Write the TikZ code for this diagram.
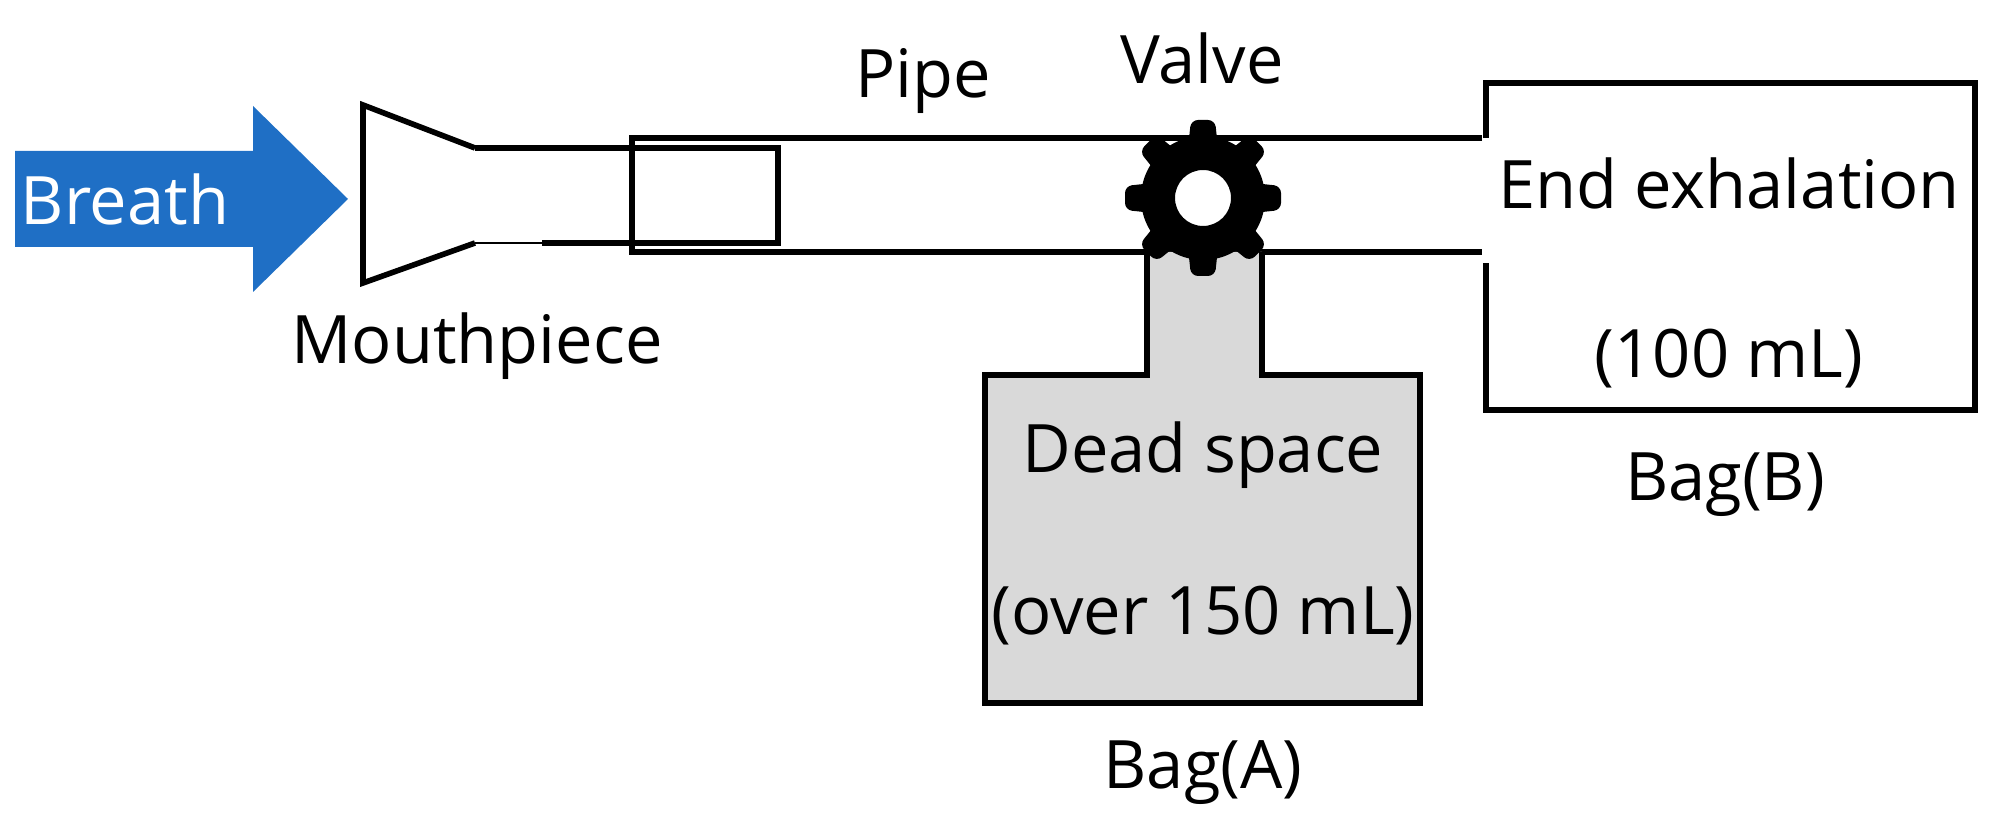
\documentclass[tikz,border=0pt]{standalone}
\usepackage{fontspec}
\setmainfont{Open Sans}
\definecolor{arrowblue}{RGB}{31,111,197}
\definecolor{baggray}{RGB}{217,217,217}
\begin{document}
\begin{tikzpicture}[x=0.01cm,y=-0.01cm,
  lbl/.style={font=\fontsize{19}{22}\selectfont,inner sep=0pt},
  ln/.style={line width=1.6pt,line join=miter}]
\useasboundingbox (0,0) rectangle (2011,825);
% Breath arrow
\fill[arrowblue] (15,151) -- (253,151) -- (253,106) -- (348,199) -- (253,292) -- (253,247) -- (15,247) -- cycle;
\node[lbl,text=white] (breath) at (125,199) {Breath};
% Mouthpiece
\draw[ln] (475,148) -- (363,105) -- (363,283) -- (475,243);
\draw[ln] (475,148) -- (632,148);
\draw[line width=0.8pt] (475,243) -- (542,243);
\draw[ln] (542,243) -- (632,243);
\draw[ln] (632,148) rectangle (778,243);
% Pipe
\draw[ln] (1482,138) -- (632,138) -- (632,252) -- (1482,252);
% Bag B
\draw[ln] (1486,138) -- (1486,83) -- (1975,83) -- (1975,410) -- (1486,410) -- (1486,263);
% Bag A with neck
\fill[baggray] (1147,252) -- (1262,252) -- (1262,375) -- (1420,375) -- (1420,703) -- (985,703) -- (985,375) -- (1147,375) -- cycle;
\draw[ln] (1147,252) -- (1147,375) -- (985,375) -- (985,703) -- (1420,703) -- (1420,375) -- (1262,375) -- (1262,252);
% Valve gear
\begin{scope}[shift={(1203,198)}]
  \foreach \a in {0,45,...,315}
    \fill[black,rotate=\a,rounded corners=2pt] (-15,-50) -- (-12,-78) -- (12,-78) -- (15,-50) -- cycle;
  \fill[black,even odd rule] (0,0) circle (62) (0,0) circle (28);
\end{scope}
% Labels
\node[lbl] (pipe) at (923,81) {Pipe};
\node[lbl] (valve) at (1202,58) {Valve};
\node[lbl] (mouth) at (477,346) {Mouthpiece};
\node[lbl] (endex) at (1729,183) {End exhalation};
\node[lbl] (vb) at (1729,359) {(100 mL)};
\node[lbl] (bagb) at (1725,485) {Bag(B)};
\node[lbl] (dead) at (1203,455) {Dead space};
\node[lbl] (va) at (1203,616) {(over 150 mL)};
\node[lbl] (baga) at (1203,773) {Bag(A)};
\end{tikzpicture}
\end{document}
